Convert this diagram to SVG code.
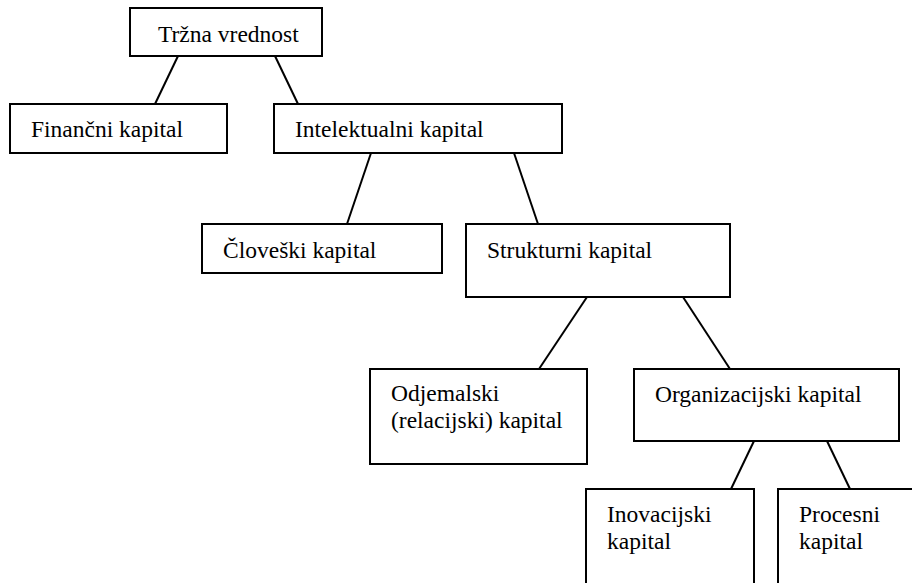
<svg xmlns="http://www.w3.org/2000/svg" width="912" height="583" viewBox="0 0 912 583">
<style>
rect{fill:#fff;stroke:#000;stroke-width:2}
text{font-family:'Liberation Serif',serif;font-size:23.5px;fill:#000}
#connectors line{stroke:#000;stroke-width:2}
</style>
<rect x="0" y="0" width="912" height="583" style="stroke:none"/>
<g id="connectors">
<line x1="178" y1="56" x2="155" y2="104"/>
<line x1="275" y1="56" x2="298" y2="104"/>
<line x1="371" y1="153" x2="347" y2="224"/>
<line x1="514" y1="153" x2="538" y2="224"/>
<line x1="587" y1="297" x2="539" y2="369"/>
<line x1="683" y1="297" x2="730" y2="369"/>
<line x1="754" y1="441" x2="731" y2="489"/>
<line x1="827" y1="441" x2="850" y2="489"/>
</g>
<g id="trzna"><rect x="130" y="8" width="192" height="48"/><text x="158" y="42">Tržna vrednost</text></g>
<g id="financni"><rect x="10" y="104" width="217" height="49"/><text x="31" y="137">Finančni kapital</text></g>
<g id="intelektualni"><rect x="274" y="104" width="288" height="49"/><text x="295" y="137">Intelektualni kapital</text></g>
<g id="cloveski"><rect x="202" y="224" width="240" height="49"/><text x="223" y="258">Človeški kapital</text></g>
<g id="strukturni"><rect x="466" y="224" width="264" height="73"/><text x="487" y="258">Strukturni kapital</text></g>
<g id="odjemalski"><rect x="370" y="369" width="217" height="95"/><text x="391" y="401">Odjemalski</text><text x="391" y="428">(relacijski) kapital</text></g>
<g id="organizacijski"><rect x="634" y="369" width="265" height="72"/><text x="655" y="402">Organizacijski kapital</text></g>
<g id="inovacijski"><rect x="586" y="489" width="168" height="120"/><text x="607" y="522">Inovacijski</text><text x="607" y="549">kapital</text></g>
<g id="procesni"><rect x="778" y="489" width="160" height="120"/><text x="799" y="522">Procesni</text><text x="799" y="549">kapital</text></g>
</svg>
